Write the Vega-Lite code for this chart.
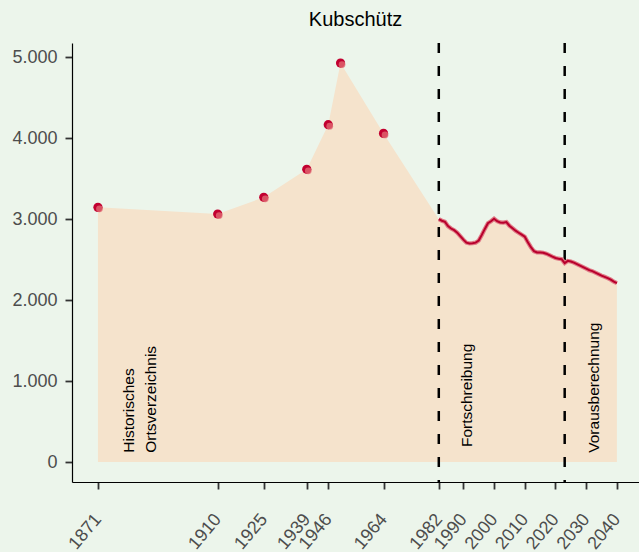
{
  "$schema": "https://vega.github.io/schema/vega-lite/v6.json",
  "width": 567,
  "height": 439,
  "autosize": {"type": "none"},
  "padding": {"left": 72, "top": 43, "right": 0, "bottom": 70},
  "background": "#ECF5EB",
  "title": {
    "text": "Kubschütz",
    "font": "Liberation Sans",
    "fontSize": 20,
    "fontWeight": "normal",
    "color": "#000000",
    "anchor": "middle",
    "frame": "group",
    "baseline": "alphabetic",
    "offset": -4
  },
  "config": {
    "locale": {
      "number": {"decimal": ",", "thousands": ".", "grouping": [3], "currency": ["", " €"]}
    },
    "view": {"stroke": null},
    "axis": {
      "grid": false,
      "domainColor": "#000000",
      "domainWidth": 1.2,
      "tickColor": "#333333",
      "tickWidth": 1.8,
      "tickSize": 7,
      "labelFont": "Liberation Sans",
      "labelFontSize": 18,
      "labelColor": "#4D4D4D",
      "title": null
    }
  },
  "datasets": {
    "pop": [
      {"year": 1871, "value": 3146, "src": "hist"},
      {"year": 1910, "value": 3064, "src": "hist"},
      {"year": 1925, "value": 3270, "src": "hist"},
      {"year": 1939, "value": 3616, "src": "hist"},
      {"year": 1946, "value": 4167, "src": "hist"},
      {"year": 1950, "value": 4929, "src": "hist"},
      {"year": 1964, "value": 4060, "src": "hist"},
      {"year": 1982, "value": 3000, "src": "fort"},
      {"year": 1983, "value": 2981, "src": "fort"},
      {"year": 1984, "value": 2967, "src": "fort"},
      {"year": 1985, "value": 2914, "src": "fort"},
      {"year": 1986, "value": 2885, "src": "fort"},
      {"year": 1987, "value": 2864, "src": "fort"},
      {"year": 1988, "value": 2833, "src": "fort"},
      {"year": 1989, "value": 2790, "src": "fort"},
      {"year": 1990, "value": 2747, "src": "fort"},
      {"year": 1991, "value": 2710, "src": "fort"},
      {"year": 1992, "value": 2700, "src": "fort"},
      {"year": 1993, "value": 2704, "src": "fort"},
      {"year": 1994, "value": 2710, "src": "fort"},
      {"year": 1995, "value": 2737, "src": "fort"},
      {"year": 1996, "value": 2806, "src": "fort"},
      {"year": 1997, "value": 2880, "src": "fort"},
      {"year": 1998, "value": 2950, "src": "fort"},
      {"year": 1999, "value": 2975, "src": "fort"},
      {"year": 2000, "value": 3006, "src": "fort"},
      {"year": 2001, "value": 2975, "src": "fort"},
      {"year": 2002, "value": 2960, "src": "fort"},
      {"year": 2003, "value": 2957, "src": "fort"},
      {"year": 2004, "value": 2965, "src": "fort"},
      {"year": 2005, "value": 2920, "src": "fort"},
      {"year": 2006, "value": 2889, "src": "fort"},
      {"year": 2007, "value": 2858, "src": "fort"},
      {"year": 2008, "value": 2833, "src": "fort"},
      {"year": 2009, "value": 2809, "src": "fort"},
      {"year": 2010, "value": 2784, "src": "fort"},
      {"year": 2011, "value": 2716, "src": "fort"},
      {"year": 2012, "value": 2654, "src": "fort"},
      {"year": 2013, "value": 2605, "src": "fort"},
      {"year": 2014, "value": 2589, "src": "fort"},
      {"year": 2015, "value": 2589, "src": "fort"},
      {"year": 2016, "value": 2586, "src": "fort"},
      {"year": 2017, "value": 2574, "src": "fort"},
      {"year": 2018, "value": 2556, "src": "fort"},
      {"year": 2019, "value": 2537, "src": "fort"},
      {"year": 2020, "value": 2521, "src": "fort"},
      {"year": 2021, "value": 2512, "src": "fort"},
      {"year": 2022, "value": 2506, "src": "fort"},
      {"year": 2023, "value": 2457, "src": "fort"},
      {"year": 2024, "value": 2485, "src": "proj"},
      {"year": 2025, "value": 2478, "src": "proj"},
      {"year": 2026, "value": 2463, "src": "proj"},
      {"year": 2027, "value": 2444, "src": "proj"},
      {"year": 2028, "value": 2426, "src": "proj"},
      {"year": 2029, "value": 2407, "src": "proj"},
      {"year": 2030, "value": 2389, "src": "proj"},
      {"year": 2031, "value": 2370, "src": "proj"},
      {"year": 2032, "value": 2358, "src": "proj"},
      {"year": 2033, "value": 2340, "src": "proj"},
      {"year": 2034, "value": 2321, "src": "proj"},
      {"year": 2035, "value": 2302, "src": "proj"},
      {"year": 2036, "value": 2288, "src": "proj"},
      {"year": 2037, "value": 2272, "src": "proj"},
      {"year": 2038, "value": 2253, "src": "proj"},
      {"year": 2039, "value": 2228, "src": "proj"},
      {"year": 2040, "value": 2210, "src": "proj"}
    ],
    "breaks": [{"year": 1982}, {"year": 2023}],
    "labels": [
      {"year": 1881.1, "value": 115, "label": ["Historisches", "Ortsverzeichnis"]},
      {"year": 1991.2, "value": 185, "label": ["Fortschreibung"]},
      {"year": 2032.5, "value": 115, "label": ["Vorausberechnung"]}
    ]
  },
  "encoding": {
    "x": {
      "field": "year",
      "type": "quantitative",
      "scale": {"domain": [1862.55, 2047.2], "nice": false, "zero": false},
      "axis": {
        "values": [1871, 1910, 1925, 1939, 1946, 1964, 1982, 1990, 2000, 2010, 2020, 2030, 2040],
        "format": "d",
        "labelAngle": -50,
        "labelAlign": "right",
        "labelBaseline": "middle",
        "labelPadding": 27,
        "labelFlush": false,
        "labelOverlap": false
      }
    },
    "y": {
      "field": "value",
      "type": "quantitative",
      "scale": {"domain": [-246.5, 5176.5], "nice": false, "zero": false},
      "axis": {
        "values": [0, 1000, 2000, 3000, 4000, 5000],
        "format": ",d",
        "labelPadding": 8
      }
    }
  },
  "layer": [
    {
      "data": {"name": "pop"},
      "mark": {"type": "area", "color": "#F5E3CC", "opacity": 1}
    },
    {
      "data": {"name": "breaks"},
      "mark": {"type": "rule", "color": "#000000", "strokeWidth": 2.5, "strokeDash": [10, 13]},
      "encoding": {"x": {"field": "year", "type": "quantitative"}, "y": null}
    },
    {
      "data": {"name": "pop"},
      "transform": [{"filter": "datum.year >= 1982"}],
      "mark": {"type": "line", "color": "#E07A86", "strokeWidth": 4.2}
    },
    {
      "data": {"name": "pop"},
      "transform": [{"filter": "datum.year >= 1982"}],
      "mark": {"type": "line", "color": "#B8002C", "strokeWidth": 2}
    },
    {
      "data": {"name": "pop"},
      "transform": [{"filter": "datum.src == 'hist'"}],
      "mark": {"type": "point", "filled": true, "color": "#C20030", "size": 85, "opacity": 1}
    },
    {
      "data": {"name": "pop"},
      "transform": [{"filter": "datum.src == 'hist'"}],
      "mark": {"type": "point", "filled": true, "color": "#E06872", "size": 45, "opacity": 0.8, "xOffset": 1.5, "yOffset": 1.5}
    },
    {
      "data": {"name": "labels"},
      "mark": {"type": "text", "angle": 270, "align": "left", "baseline": "middle", "font": "Liberation Sans", "fontSize": 15.5, "lineHeight": 22, "color": "#000000"},
      "encoding": {"text": {"field": "label"}}
    }
  ]
}
